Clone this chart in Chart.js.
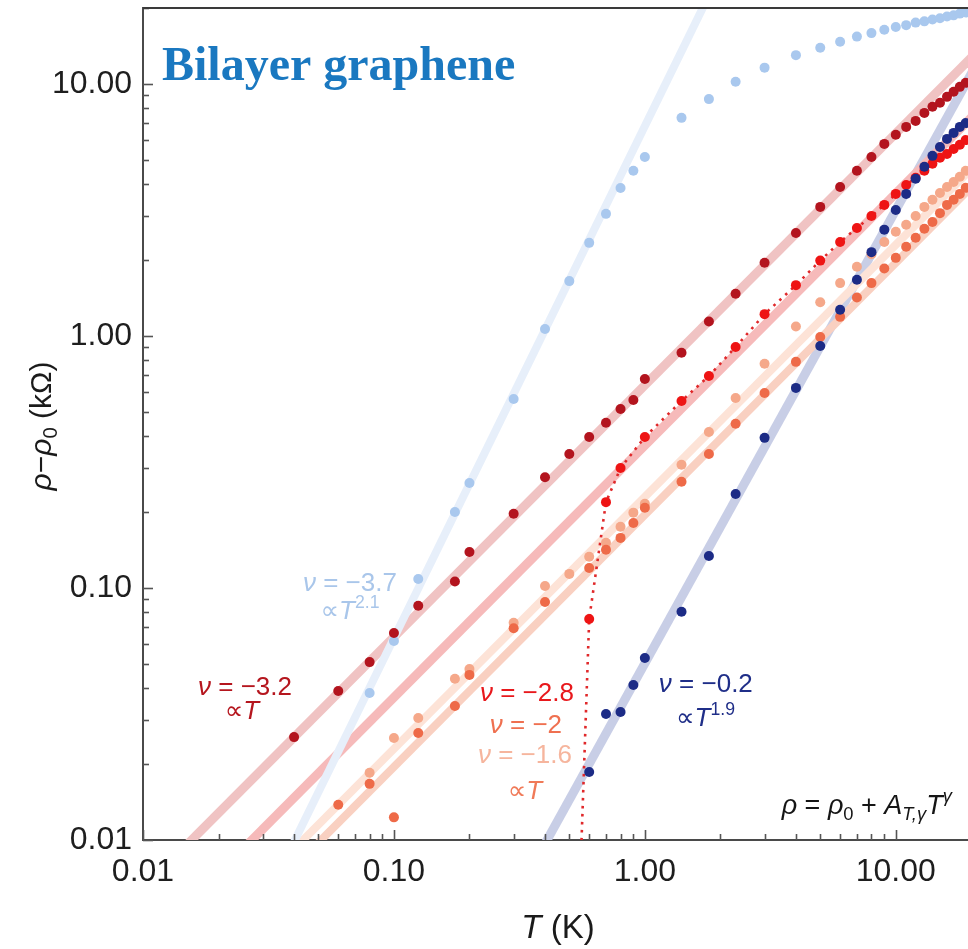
<!DOCTYPE html>
<html><head><meta charset="utf-8">
<script src="https://cdn.jsdelivr.net/npm/chart.js@4.4.1/dist/chart.umd.min.js"></script>
<style>html,body{margin:0;padding:0;background:#fff;}canvas{display:block;}</style>
</head><body>
<canvas id="c" width="968" height="949"></canvas>
<script>
// ---------------- data ----------------
const xTickValues = [0.01, 0.1, 1, 10];
const xTickLabels = ['0.01', '0.10', '1.00', '10.00'];
const yTickValues = [0.01, 0.1, 1, 10];
const yTickLabels = ['0.01', '0.10', '1.00', '10.00'];

// nu = -3.7
const T_m37 = [0.08,0.1,0.125,0.175,0.2,0.3,0.4,0.5,0.6,0.7,0.8,0.9,1.0,1.4,1.8,2.3,3,4,5,6,7,8,9,10,11,12,13,14,15,16,17,18,19];
const R_m37 = [0.0383,0.0616,0.1086,0.2,0.261,0.562,1.066,1.65,2.34,3.05,3.86,4.52,5.13,7.33,8.7,10.2,11.6,13.0,13.9,14.7,15.4,15.9,16.4,16.8,17.1,17.5,17.7,18.0,18.2,18.5,18.7,19.0,19.2];
// nu = -3.2
const T_m32 = [0.04,0.06,0.08,0.1,0.125,0.175,0.2,0.3,0.4,0.5,0.6,0.7,0.8,0.9,1.0,1.4,1.8,2.3,3,4,5,6,7,8,9,10,11,12,13,14,15,16,17,18,19];
const R_m32 = [0.0256,0.039,0.0508,0.0663,0.085,0.106,0.139,0.197,0.275,0.340,0.397,0.452,0.513,0.557,0.675,0.857,1.14,1.47,1.95,2.56,3.25,3.90,4.52,5.13,5.78,6.28,6.75,7.13,7.67,8.11,8.41,8.88,9.3,9.73,10.1];
// nu = -2.8
const T_m28 = [0.6,0.7,0.8,1.0,1.4,1.8,2.3,3,4,5,6,7,8,9,10,11,12,13,14,15,16,17,18,19];
const R_m28 = [0.0753,0.219,0.299,0.397,0.552,0.693,0.904,1.22,1.59,1.99,2.36,2.68,2.99,3.31,3.66,3.97,4.24,4.52,4.82,5.09,5.27,5.52,5.73,5.99];
// dotted guide through nu = -2.8 (first value: where it leaves the frame)
const T_m28_dot = [0.555].concat(T_m28);
const R_m28_dot = [0.008].concat(R_m28);
// nu = -2
const T_m20 = [0.06,0.08,0.1,0.125,0.175,0.2,0.3,0.4,0.6,0.7,0.8,0.9,1.0,1.4,1.8,2.3,3,4,5,6,7,8,9,10,11,12,13,14,15,16,17,18,19];
const R_m20 = [0.0138,0.0167,0.0123,0.0266,0.034,0.0452,0.0692,0.088,0.12,0.1417,0.158,0.181,0.208,0.264,0.34,0.448,0.594,0.789,0.99,1.19,1.42,1.62,1.85,2.04,2.26,2.45,2.66,2.83,3.07,3.31,3.47,3.66,3.87];
// nu = -1.6
const T_m16 = [0.08,0.1,0.125,0.175,0.2,0.3,0.4,0.5,0.6,0.7,0.8,0.9,1.0,1.4,1.8,2.3,3,4,5,6,7,8,9,10,11,12,13,14,15,16,17,18,19];
const R_m16 = [0.0185,0.0254,0.0305,0.0436,0.0477,0.0728,0.1018,0.1137,0.133,0.151,0.175,0.199,0.216,0.308,0.416,0.567,0.775,1.09,1.36,1.62,1.88,2.11,2.36,2.59,2.76,2.99,3.25,3.47,3.69,3.90,4.08,4.28,4.52];
// nu = -0.2
const T_m02 = [0.6,0.7,0.8,0.9,1.0,1.4,1.8,2.3,3,4,5,6,7,8,9,10,11,12,13,14,15,16,17,18,19];
const R_m02 = [0.0186,0.0316,0.0322,0.0412,0.0527,0.0804,0.134,0.236,0.394,0.622,0.912,1.27,1.67,2.15,2.64,3.16,3.66,4.2,4.69,5.18,5.62,6.05,6.39,6.75,7.0];

// power-law fit lines: end points read where each band runs past the frame
const fitT_m37 = [0.035, 2.0],  fitR_m37 = [0.0075, 27.8];
const fitT_m32 = [0.0125, 25],  fitR_m32 = [0.008, 15.9];
const fitT_m28 = [0.02, 25],    fitR_m28 = [0.00736, 9.2];
const fitT_m20 = [0.04, 25],    fitR_m20 = [0.0078, 4.875];
const fitT_m16 = [0.035, 25],   fitR_m16 = [0.00805, 5.75];
const fitT_m02 = [0.35, 25],    fitR_m02 = [0.0076, 16.4];

const X_MIN = 0.01, X_MAX = 19.4, Y_MIN = 0.01, Y_MAX = 20;

// ---------------- helpers ----------------
const pts = (T, R) => T.map((t, i) => ({x: t, y: R[i]}));
const FONT = "'Liberation Sans','DejaVu Sans',sans-serif";

function pointSet(label, T, R, color, order) {
  return {label, data: pts(T, R), showLine: false, pointRadius: 5, pointHoverRadius: 5,
    pointBorderWidth: 0, backgroundColor: color, borderColor: color, order, clip: 0};
}
function fitSet(label, T, R, color, width) {
  return {label, data: pts(T, R), showLine: true, pointRadius: 0, borderColor: color,
    borderWidth: width, order: 20, clip: 0, borderCapStyle: 'butt'};
}

function drawRich(ctx, parts, cx, cy, size, color, family) {
  family = family || FONT;
  const segs = parts.map(([t, s]) => {
    const small = s.startsWith('sup') || s.startsWith('sub');
    const italic = (s === 'i' || s === 'supi' || s === 'subi');
    const sz = small ? size * 0.68 : size;
    const font = (italic ? 'italic ' : '') + sz + 'px ' + family;
    const dy = s.startsWith('sup') ? -0.42 * size : (s.startsWith('sub') ? 0.22 * size : 0);
    ctx.font = font;
    return {t, font, dy, w: ctx.measureText(t).width};
  });
  const total = segs.reduce((a, b) => a + b.w, 0);
  let x = cx - total / 2;
  const base = cy + 0.36 * size;
  ctx.fillStyle = color; ctx.textBaseline = 'alphabetic'; ctx.textAlign = 'left';
  for (const s of segs) { ctx.font = s.font; ctx.fillText(s.t, x, base + s.dy); x += s.w; }
}

const annotations = [
  {T: 0.0668, R: 0.1057, size: 26, color: '#a9c6ea', parts: [['ν','i'],[' = −3.7','n']]},
  {T: 0.0668, R: 0.0818, size: 26, color: '#a9c6ea', parts: [['∝','n'],['T','i'],['2.1','sup']]},
  {T: 0.0255, R: 0.0408, size: 26, color: '#b5161e', parts: [['ν','i'],[' = −3.2','n']]},
  {T: 0.0248, R: 0.0328, size: 26, color: '#b5161e', parts: [['∝','n'],['T','i']]},
  {T: 0.339,  R: 0.0387, size: 26, color: '#e8181c', parts: [['ν','i'],[' = −2.8','n']]},
  {T: 0.3357, R: 0.0289, size: 26, color: '#ef7050', parts: [['ν','i'],[' = −2','n']]},
  {T: 0.3326, R: 0.0221, size: 26, color: '#f6b59d', parts: [['ν','i'],[' = −1.6','n']]},
  {T: 0.3326, R: 0.0159, size: 26, color: '#f07a58', parts: [['∝','n'],['T','i']]},
  {T: 1.75,   R: 0.042,  size: 26, color: '#1f2e88', parts: [['ν','i'],[' = −0.2','n']]},
  {T: 1.745,  R: 0.031,  size: 26, color: '#1f2e88', parts: [['∝','n'],['T','i'],['1.9','sup']]},
  {T: 7.66,   R: 0.0139, size: 27, color: '#151515', parts: [['ρ','i'],[' = ','n'],['ρ','i'],['0','sub'],[' + ','n'],['A','i'],['T,γ','subi'],['T','i'],['γ','supi']]}
];

const overlay = {
  id: 'overlay',
  afterDatasetsDraw(chart) {
    const {ctx, chartArea: a, scales: {x, y}} = chart;
    ctx.save();
    // inward tick marks
    ctx.strokeStyle = '#555'; ctx.lineWidth = 1.6;
    for (let e = -2; e <= 1; e++) {
      for (let m = 1; m <= 9; m++) {
        const v = m * Math.pow(10, e);
        const len = m === 1 ? 10 : 6;
        if (v >= X_MIN && v <= X_MAX) {
          const px = Math.round(x.getPixelForValue(v)) + 0.5;
          ctx.beginPath(); ctx.moveTo(px, a.bottom); ctx.lineTo(px, a.bottom - len); ctx.stroke();
        }
        if (v >= Y_MIN && v <= Y_MAX) {
          const py = Math.round(y.getPixelForValue(v)) + 0.5;
          ctx.beginPath(); ctx.moveTo(a.left, py); ctx.lineTo(a.left + len, py); ctx.stroke();
        }
      }
    }
    // top frame
    ctx.strokeStyle = '#3a3a3a'; ctx.lineWidth = 2;
    ctx.beginPath(); ctx.moveTo(a.left, a.top); ctx.lineTo(a.right, a.top); ctx.stroke();
    // annotations
    for (const an of annotations) {
      drawRich(ctx, an.parts, x.getPixelForValue(an.T), y.getPixelForValue(an.R), an.size, an.color);
    }
    // title
    ctx.font = "bold 48px 'Liberation Serif','Times New Roman',serif";
    ctx.fillStyle = '#1a78c0'; ctx.textAlign = 'left'; ctx.textBaseline = 'alphabetic';
    ctx.fillText('Bilayer graphene', a.left + 19, a.top + 72);
    // axis titles
    drawRich(ctx, [['T','i'],[' (K)','n']], 558, 926, 33, '#1a1a1a');
    ctx.translate(40, 426); ctx.rotate(-Math.PI / 2);
    drawRich(ctx, [['ρ','i'],['−','n'],['ρ','i'],['0','sub'],[' (kΩ)','n']], 0, 0, 30, '#1a1a1a');
    ctx.restore();
  }
};

new Chart(document.getElementById('c'), {
  type: 'scatter',
  data: {
    datasets: [
      fitSet('fit −3.7', fitT_m37, fitR_m37, '#e7effa', 8),
      fitSet('fit −1.6', fitT_m16, fitR_m16, '#fde3d7', 8),
      fitSet('fit −2', fitT_m20, fitR_m20, '#f9d0c1', 8),
      fitSet('fit −3.2', fitT_m32, fitR_m32, '#f0c3c3', 9),
      fitSet('fit −2.8', fitT_m28, fitR_m28, '#f6baba', 9),
      fitSet('fit −0.2', fitT_m02, fitR_m02, '#c8cee6', 9),
      {label: 'guide −2.8', data: pts(T_m28_dot, R_m28_dot), showLine: true, pointRadius: 0,
        borderColor: '#e0282a', borderWidth: 2.6, borderDash: [2.6, 5.4], order: 15, clip: 0},
      pointSet('ν = −3.7', T_m37, R_m37, '#a9c8ee', 9),
      pointSet('ν = −1.6', T_m16, R_m16, '#f5a88a', 8),
      pointSet('ν = −2', T_m20, R_m20, '#ee6a48', 7),
      pointSet('ν = −2.8', T_m28, R_m28, '#ee1414', 6),
      pointSet('ν = −0.2', T_m02, R_m02, '#1c2b86', 5),
      pointSet('ν = −3.2', T_m32, R_m32, '#b3141e', 4)
    ]
  },
  options: {
    responsive: false, animation: false, devicePixelRatio: 1,
    layout: {autoPadding: false, padding: {top: 8, right: 0, left: 0, bottom: 0}},
    plugins: {legend: {display: false}, tooltip: {enabled: false}},
    scales: {
      x: {
        type: 'logarithmic', position: 'bottom', min: X_MIN, max: X_MAX,
        grid: {display: false}, border: {display: true, color: '#4a4a4a', width: 2},
        afterBuildTicks: s => { s.ticks = xTickValues.map(v => ({value: v})); },
        afterFit: s => { s.height = 109; s.paddingLeft = 0; s.paddingRight = 0; },
        ticks: {autoSkip: false, maxRotation: 0, padding: 5, color: '#1e1e1e',
          font: {family: FONT, size: 32}, callback: (v, i) => xTickLabels[i]}
      },
      y: {
        type: 'logarithmic', position: 'left', min: Y_MIN, max: Y_MAX,
        grid: {display: false}, border: {display: true, color: '#4a4a4a', width: 2},
        afterBuildTicks: s => { s.ticks = yTickValues.map(v => ({value: v})); },
        afterFit: s => { s.width = 143; s.paddingTop = 0; s.paddingBottom = 0; },
        ticks: {autoSkip: false, padding: 3, color: '#1e1e1e',
          font: {family: FONT, size: 32}, callback: (v, i) => yTickLabels[i]}
      }
    }
  },
  plugins: [overlay]
});
</script>
</body></html>
